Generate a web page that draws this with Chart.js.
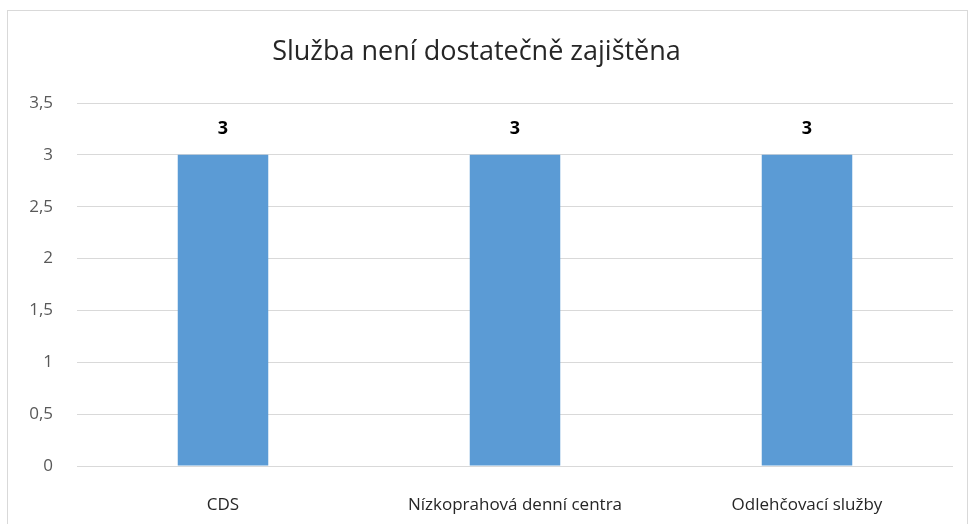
<!DOCTYPE html>
<html>
<head>
<meta charset="utf-8">
<script src="https://cdn.jsdelivr.net/npm/chart.js@4/dist/chart.umd.min.js"></script>
<style>
  body { margin: 0; background: #fff; }
  #wrap { position: relative; width: 970px; height: 524px; }
  #frame { position: absolute; left: 7px; top: 10px; width: 961px; height: 520px; border: 1px solid #d9d9d9; box-sizing: border-box; }
  canvas { position: absolute; left: 0; top: 0; }
</style>
</head>
<body>
<div id="wrap">
  <div id="frame"></div>
  <canvas id="c" width="970" height="524"></canvas>
</div>
<script>
const categories = ["CDS", "Nízkoprahová denní centra", "Odlehčovací služby"];
const values = [3, 3, 3];
const chartTitle = "Služba není dostatečně zajištěna";

const FONT = "'Open Sans', sans-serif";

// value labels above bars
const barLabels = {
    id: "barLabels",
    afterDatasetsDraw(chart) {
        const ctx = chart.ctx;
        const meta = chart.getDatasetMeta(0);
        ctx.save();
        ctx.font = "bold 18px " + FONT;
        ctx.fillStyle = "#000";
        ctx.textAlign = "center";
        ctx.textBaseline = "middle";
        meta.data.forEach((bar, i) => {
            ctx.fillText(String(values[i]).replace(".", ","), bar.x, bar.y - 26);
        });
        ctx.restore();
    }
};

new Chart(document.getElementById("c"), {
    type: "bar",
    data: {
        labels: categories,
        datasets: [{
            data: values,
            backgroundColor: "#5b9bd5",
            categoryPercentage: 1,
            barPercentage: 0.31
        }]
    },
    options: {
        responsive: false,
        animation: false,
        layout: { padding: { left: 0, right: 17, top: 0, bottom: 0 } },
        plugins: {
            legend: { display: false },
            tooltip: { enabled: false },
            title: {
                display: true,
                text: chartTitle,
                color: "#262626",
                font: { family: FONT, size: 27, weight: "normal" },
                padding: { top: 36, bottom: 34.6 }
            }
        },
        scales: {
            x: {
                afterFit(scale) { scale.height = 58; },
                grid: { display: false },
                border: { display: false },
                ticks: {
                    color: "#262626",
                    font: { family: FONT, size: 17 },
                    padding: 21,
                    maxRotation: 0
                }
            },
            y: {
                min: 0,
                max: 3.5,
                afterFit(scale) { scale.width = 77; },
                grid: { color: "#d9d9d9", lineWidth: 1, drawTicks: false },
                border: { display: false },
                ticks: {
                    stepSize: 0.5,
                    color: "#595959",
                    font: { family: FONT, size: 17 },
                    padding: 24,
                    callback: v => String(v).replace(".", ",")
                }
            }
        }
    },
    plugins: [barLabels]
});
</script>
</body>
</html>
